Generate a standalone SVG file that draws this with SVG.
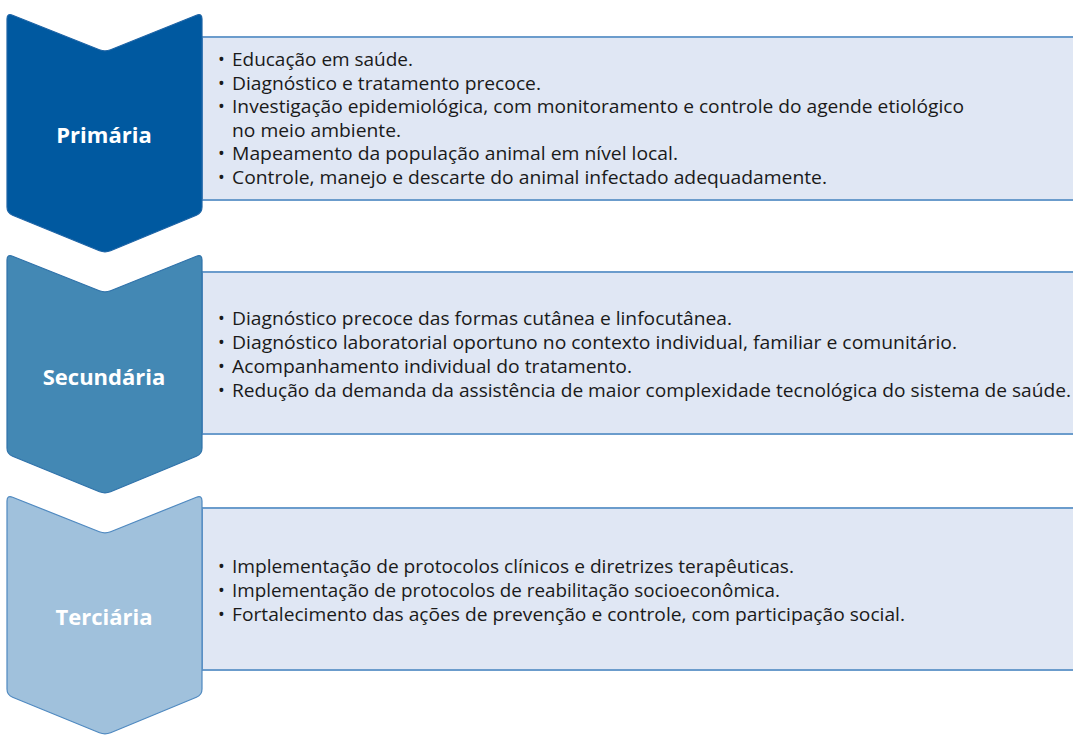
<svg xmlns="http://www.w3.org/2000/svg" width="1073" height="735" viewBox="0 0 1073 735">
<style>
.box{fill:#e0e7f4;stroke:#6b9ccc;stroke-width:2}
.chev{stroke-width:1.2}
.c1{fill:#0059a0;stroke:#1d64a6}
.c2{fill:#4388b4;stroke:#2f72aa}
.c3{fill:#a0c1dc;stroke:#4f89c0}
.lbl{font-family:"Open Sans","Noto Sans","Liberation Sans",sans-serif;font-weight:bold;font-size:22px;fill:#ffffff;text-anchor:middle}
.t{font-family:"Open Sans","Noto Sans","Liberation Sans",sans-serif;font-size:18px;fill:#1a1a1a}
</style>
<defs>
<path id="chevShape" d="M 7,19 Q 7,13 12.6,15.2 L 99.4,49.8 Q 105,52 110.6,49.8 L 196.4,15.2 Q 202,13 202,19 L 202,207 Q 202,213 196.4,215.2 L 110.6,250.8 Q 105,253 99.4,250.8 L 12.6,215.2 Q 7,213 7,207 Z"/>
</defs>
<g id="box-primaria">
<rect class="box" x="202" y="37" width="880" height="163"/>
<text class="t"><tspan x="218" y="66">•</tspan><tspan x="232" y="66" textLength="181" lengthAdjust="spacingAndGlyphs">Educação em saúde.</tspan></text>
<text class="t"><tspan x="218" y="89.5">•</tspan><tspan x="232" y="89.5" textLength="309" lengthAdjust="spacingAndGlyphs">Diagnóstico e tratamento precoce.</tspan></text>
<text class="t"><tspan x="218" y="113">•</tspan><tspan x="232" y="113" textLength="732" lengthAdjust="spacingAndGlyphs">Investigação epidemiológica, com monitoramento e controle do agende etiológico</tspan></text>
<text class="t" x="232" y="136.5" textLength="169" lengthAdjust="spacingAndGlyphs">no meio ambiente.</text>
<text class="t"><tspan x="218" y="160">•</tspan><tspan x="232" y="160" textLength="446" lengthAdjust="spacingAndGlyphs">Mapeamento da população animal em nível local.</tspan></text>
<text class="t"><tspan x="218" y="183.5">•</tspan><tspan x="232" y="183.5" textLength="595" lengthAdjust="spacingAndGlyphs">Controle, manejo e descarte do animal infectado adequadamente.</tspan></text>
</g>
<g id="box-secundaria">
<rect class="box" x="202" y="272" width="880" height="162"/>
<text class="t"><tspan x="218" y="325">•</tspan><tspan x="232" y="325" textLength="500" lengthAdjust="spacingAndGlyphs">Diagnóstico precoce das formas cutânea e linfocutânea.</tspan></text>
<text class="t"><tspan x="218" y="349">•</tspan><tspan x="232" y="349" textLength="725" lengthAdjust="spacingAndGlyphs">Diagnóstico laboratorial oportuno no contexto individual, familiar e comunitário.</tspan></text>
<text class="t"><tspan x="218" y="373">•</tspan><tspan x="232" y="373" textLength="400" lengthAdjust="spacingAndGlyphs">Acompanhamento individual do tratamento.</tspan></text>
<text class="t"><tspan x="218" y="397">•</tspan><tspan x="232" y="397" textLength="839" lengthAdjust="spacingAndGlyphs">Redução da demanda da assistência de maior complexidade tecnológica do sistema de saúde.</tspan></text>
</g>
<g id="box-terciaria">
<rect class="box" x="202" y="508" width="880" height="162"/>
<text class="t"><tspan x="218" y="573">•</tspan><tspan x="232" y="573" textLength="562" lengthAdjust="spacingAndGlyphs">Implementação de protocolos clínicos e diretrizes terapêuticas.</tspan></text>
<text class="t"><tspan x="218" y="597">•</tspan><tspan x="232" y="597" textLength="548" lengthAdjust="spacingAndGlyphs">Implementação de protocolos de reabilitação socioeconômica.</tspan></text>
<text class="t"><tspan x="218" y="620.5">•</tspan><tspan x="232" y="620.5" textLength="673" lengthAdjust="spacingAndGlyphs">Fortalecimento das ações de prevenção e controle, com participação social.</tspan></text>
</g>
<g id="chevron-primaria">
<use href="#chevShape" class="chev c1"/>
<text class="lbl" x="104" y="143">Primária</text>
</g>
<g id="chevron-secundaria">
<use href="#chevShape" class="chev c2" transform="translate(0,241)"/>
<text class="lbl" x="104" y="385">Secundária</text>
</g>
<g id="chevron-terciaria">
<use href="#chevShape" class="chev c3" transform="translate(0,482)"/>
<text class="lbl" x="104" y="625">Terciária</text>
</g>
<g id="connectors"/>
</svg>
